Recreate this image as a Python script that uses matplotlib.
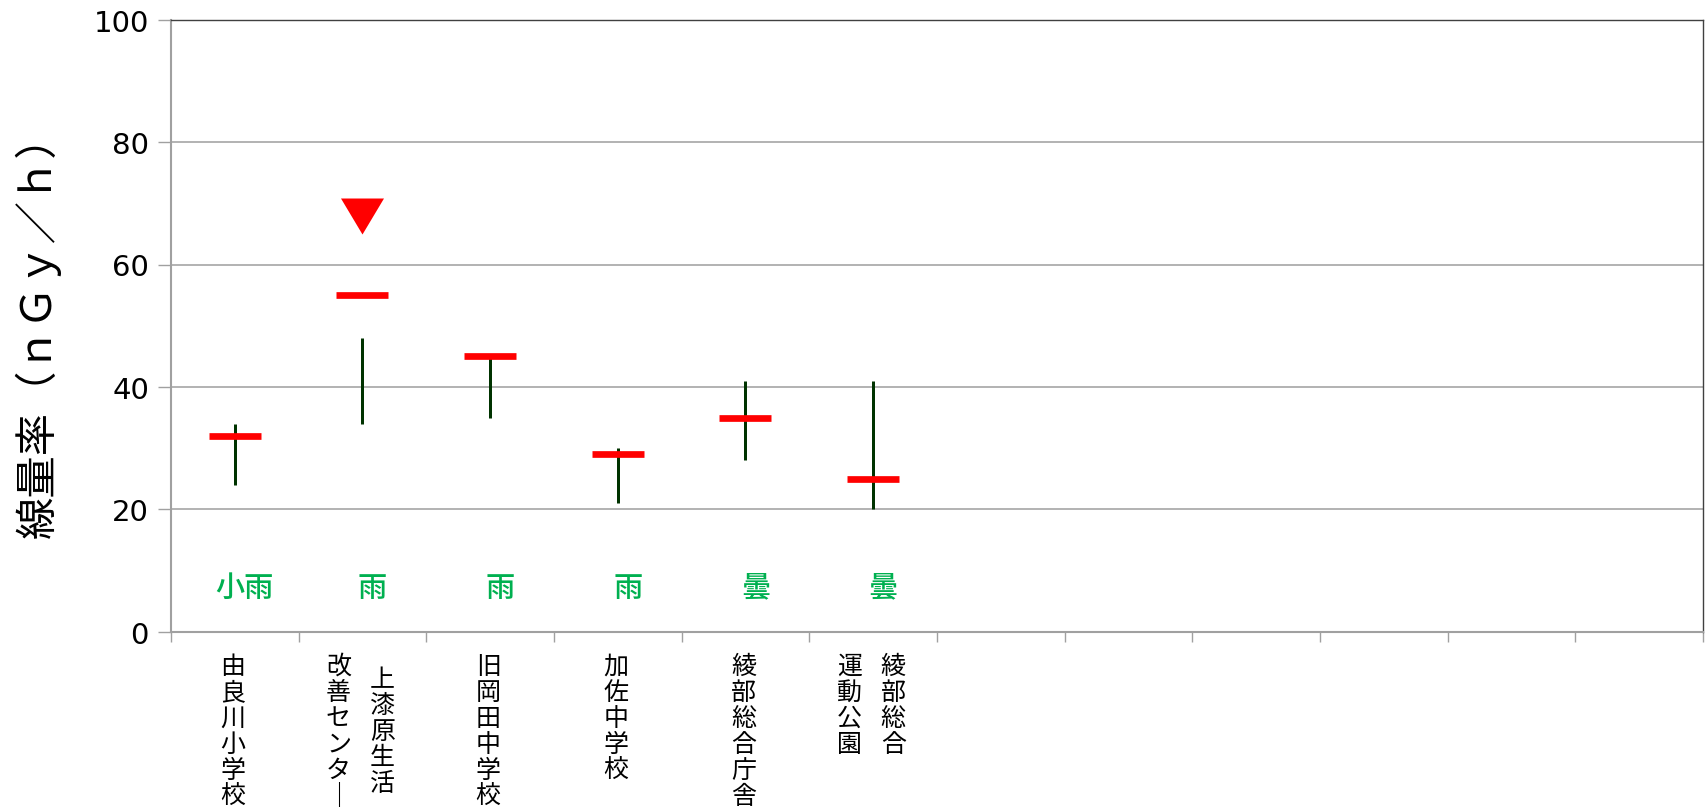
import matplotlib
matplotlib.use("Agg")
import matplotlib.pyplot as plt
from matplotlib.path import Path
from matplotlib.transforms import blended_transform_factory

plt.rcParams['font.family'] = ['Noto Sans CJK JP', 'DejaVu Sans']

# ---- data ----
n_slots = 12
sites = ["由良川小学校", "上漆原生活\n改善センター", "旧岡田中学校",
         "加佐中学校", "綾部総合庁舎", "綾部総合\n運動公園"]
range_low = [24, 34, 35, 21, 28, 20]
range_high = [34, 48, 45, 30, 41, 41]
measured = [32, 55, 45, 29, 35, 25]
weather = ["小雨", "雨", "雨", "雨", "曇", "曇"]
weather_level = 7.3
peak_site = [1]
peak_value = [68]
y_ticks = [0, 20, 40, 60, 80, 100]
y_label = "線量率（ｎＧｙ／ｈ）"

PX = 0.72  # points per pixel at dpi 100

fig = plt.figure(figsize=(17.06, 8.12), dpi=100)
ax = fig.add_axes([171/1706, 1-632.7/812, (1703-171)/1706, (632.7-20.7)/812])

xs = list(range(len(sites)))

ax.vlines(xs, range_low, range_high, color='#003300', lw=3*PX, zorder=3)
ax.plot(xs, measured, ls='none', marker='_', ms=52*PX, mew=6.7*PX,
        color='#FF0000', zorder=4)
tri = Path([(-1, 0.837), (1, 0.837), (0, -0.837), (-1, 0.837)],
           [Path.MOVETO, Path.LINETO, Path.LINETO, Path.CLOSEPOLY])
ax.plot(peak_site, peak_value, ls='none', marker=tri, ms=43*PX,
        color='#FF0000', mec='none', zorder=4)

for x, w in zip(xs, weather):
    ax.annotate(w, (x, weather_level), xytext=(10*PX, 0), textcoords='offset points',
                ha='center', va='center', fontsize=21, color='#00B050',
                fontweight='medium')

ax.set_xlim(-0.5, n_slots - 0.5)
ax.set_ylim(0, 100)
ax.set_yticks(y_ticks)
ax.set_yticklabels([str(v) for v in y_ticks], family='DejaVu Sans', fontsize=21)
ax.set_xticks(range(n_slots))
ax.set_xticklabels([])
ax.set_xticks([i - 0.5 for i in range(n_slots + 1)], minor=True)
ax.tick_params(axis='x', which='major', length=0)
ax.tick_params(axis='x', which='minor', length=10*PX, width=1, color='#a0a0a0', direction='out')
ax.tick_params(axis='y', length=13*PX, width=1, color='#a0a0a0', pad=9*PX)

ax.grid(axis='y', color='#a6a6a6', lw=1.2)
ax.set_axisbelow(True)
for s in ['left', 'bottom']:
    ax.spines[s].set_color('#a0a0a0')
    ax.spines[s].set_linewidth(1.5)
for s in ['top', 'right']:
    ax.spines[s].set_color('#404040')
    ax.spines[s].set_linewidth(1.0)

fig.text(38/1706, 1-326/812, y_label, rotation=90, ha='center', va='center', fontsize=30.5)

# vertical category labels
trans = blended_transform_factory(ax.transData, ax.transAxes)
pitch = 26
first_center = 34
for x, lab in zip(xs, sites):
    cols = lab.split("\n")
    nmax = max(len(c) for c in cols)
    if len(cols) == 1:
        dxs = [-2]
    else:
        dxs = [20, -24]
    for col, dx in zip(cols, dxs):
        start = first_center + (nmax - len(col)) * pitch / 2 if len(cols) > 1 else first_center
        for i, ch in enumerate(col):
            ch_draw = "｜" if ch == "ー" else ch
            ax.annotate(ch_draw, (x, 0), xycoords=trans,
                        xytext=(dx*PX, -(start + i*pitch)*PX), textcoords='offset points',
                        ha='center', va='center', fontsize=18, color='#000000',
                        annotation_clip=False)

fig.savefig("out.png", dpi=100)
